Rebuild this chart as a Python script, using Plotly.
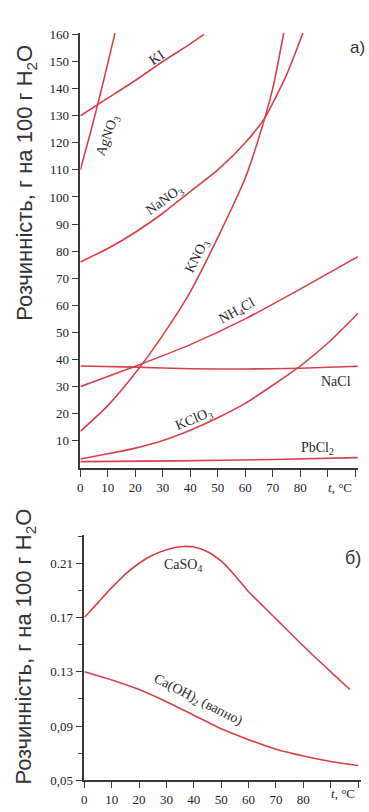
import plotly.graph_objects as go

W, H = 369, 812

# --- top chart (а): solubility, g per 100 g H2O ---
ki_t = [0, 10, 20, 30, 40, 45]
ki_v = [130, 136.5, 143, 150, 156.5, 160]

agno3_t = [0, 4, 8, 12.6]
agno3_v = [110, 125, 141, 160.5]

nano3_t = [0, 10, 20, 30, 40, 50, 60, 67, 75, 81]
nano3_v = [76, 81, 87, 94, 102, 110, 120, 129, 145, 160.5]

kno3_t = [0, 10, 20, 30, 40, 50, 60, 65, 70, 74]
kno3_v = [13.5, 23, 35, 49, 65, 85, 107, 122, 140, 160.5]

nh4cl_t = [0, 20, 40, 60, 80, 101]
nh4cl_v = [30, 37.5, 45.5, 55, 66, 78]

nacl_t = [0, 20, 40, 60, 80, 101]
nacl_v = [37.6, 37.2, 36.6, 36.5, 36.8, 37.5]

kclo3_t = [0, 10, 20, 30, 40, 50, 60, 70, 80, 90, 101]
kclo3_v = [3.3, 5.2, 7.3, 10.1, 13.9, 18.5, 23.8, 30.5, 37.6, 46, 57]

pbcl2_t = [0, 35, 70, 101]
pbcl2_v = [2.3, 2.6, 3.1, 3.8]

# --- bottom chart (б) ---
caso4_t = [0, 5, 10, 15, 20, 25, 30, 35, 40, 45, 50, 55, 60, 70, 80, 90, 97]
caso4_v = [0.170, 0.181, 0.192, 0.202, 0.210, 0.216, 0.220, 0.2222, 0.2220,
           0.2185, 0.2115, 0.201, 0.189, 0.169, 0.149, 0.130, 0.117]

caoh2_t = [0, 10, 20, 30, 40, 50, 60, 70, 80, 90, 100]
caoh2_v = [0.130, 0.124, 0.117, 0.108, 0.098, 0.088, 0.080, 0.073, 0.068, 0.064, 0.061]

x_ticks = list(range(0, 81, 10))
top_y_ticks = list(range(10, 161, 10))
bot_y_ticks = [0.05, 0.09, 0.13, 0.17, 0.21]
bot_y_labels = ["0,05", "0,09", "0.13", "0.17", "0.21"]

RED = "#d8404a"
AX = "#3a3a3a"
SERIF = "Liberation Serif, DejaVu Serif, serif"
SANS = "Liberation Sans, Arial, sans-serif"

fig = go.Figure()

top = [(ki_t, ki_v), (agno3_t, agno3_v), (nano3_t, nano3_v), (kno3_t, kno3_v),
       (nh4cl_t, nh4cl_v), (nacl_t, nacl_v), (kclo3_t, kclo3_v), (pbcl2_t, pbcl2_v)]
for t, v in top:
    fig.add_trace(go.Scatter(x=t, y=v, mode="lines", line=dict(color=RED, width=1.6, shape="spline", smoothing=0.6),
                             xaxis="x", yaxis="y", showlegend=False, hoverinfo="skip"))

for t, v in [(caso4_t, caso4_v), (caoh2_t, caoh2_v)]:
    fig.add_trace(go.Scatter(x=t, y=v, mode="lines", line=dict(color=RED, width=1.6, shape="spline", smoothing=0.6),
                             xaxis="x2", yaxis="y2", showlegend=False, hoverinfo="skip"))

tickfont = dict(family=SERIF, size=13, color="#222")
axis_common = dict(showgrid=False, zeroline=False, showline=True, linecolor=AX, linewidth=1.5,
                   ticks="outside", tickwidth=1.2, tickcolor=AX, tickfont=tickfont,
                   ticklabeloverflow="allow")


def px(x, y):
    return x / W, 1 - y / H


fig.update_layout(
    width=W, height=H, margin=dict(l=0, r=0, t=0, b=0),
    paper_bgcolor="white", plot_bgcolor="white",
    xaxis=dict(domain=[78 / W, 357.8 / W], range=[0, 101], anchor="y", ticklen=7,
               tickvals=x_ticks,
               minor=dict(tick0=0, dtick=10, ticklen=7, tickwidth=1.2, tickcolor=AX, ticks="outside"),
               **axis_common),
    yaxis=dict(domain=[px(0, 470)[1], px(0, 27)[1]], range=[0, 160.7], anchor="x", ticklen=7,
               tickvals=top_y_ticks, **axis_common),
    xaxis2=dict(domain=[82 / W, 360.8 / W], range=[0, 101], anchor="y2", ticklen=6,
                tickvals=x_ticks,
                minor=dict(tick0=0, dtick=10, ticklen=6, tickwidth=1.2, tickcolor=AX, ticks="outside"),
                **axis_common),
    yaxis2=dict(domain=[px(0, 788)[1], px(0, 538)[1]], range=[0.05, 0.231], anchor="x2", ticklen=7,
                tickvals=bot_y_ticks, ticktext=bot_y_labels,
                minor=dict(tick0=0.05, dtick=0.02, ticklen=5, tickcolor=AX, ticks="outside"),
                **axis_common),
)


def note(text, x, y, size, family, angle=0, color="#2a2a2a"):
    ax, ay = px(x, y)
    fig.add_annotation(x=ax, y=ay, xref="paper", yref="paper", text=text, showarrow=False,
                       xanchor="center", yanchor="middle", textangle=angle,
                       font=dict(family=family, size=size, color=color))


labels = [
    ("KI", 155, 52, -34),
    ("AgNO<sub>3</sub>", 106, 132, -70),
    ("NaNO<sub>3</sub>", 163, 198, -36),
    ("KNO<sub>3</sub>", 196, 255, -63),
    ("NH<sub>4</sub>Cl", 236, 311, -29),
    ("NaCl", 336, 382, 0),
    ("KClO<sub>3</sub>", 193, 421, -23),
    ("PbCl<sub>2</sub>", 317, 450, 0),
    ("CaSO<sub>4</sub>", 181, 569, 0),
    ("Ca(OH)<sub>2</sub> (вапно)", 197, 707, 27),
]
for text, x, y, ang in labels:
    note(text, x, y, 14, SERIF, ang)

note("<i>t</i>, °C", 340, 490, 13, SERIF)
note("<i>t</i>, °C", 343, 801, 13, SERIF)
note("а)", 357, 42, 17, SANS, color="#333")
note("б)", 353, 562, 18, SANS, color="#333")

ytitle = "Розчинність, г на 100 г H<sub>2</sub>O"
note(ytitle, 23, 180, 22, SANS, -90, "#333")
note(ytitle, 22, 652, 22, SANS, -90, "#333")

# page body has a default 8px margin; remove it so the figure sits at the window corner
fig.write_html("out.html", config={"displayModeBar": False},
               post_script="document.body.style.margin='0';")
